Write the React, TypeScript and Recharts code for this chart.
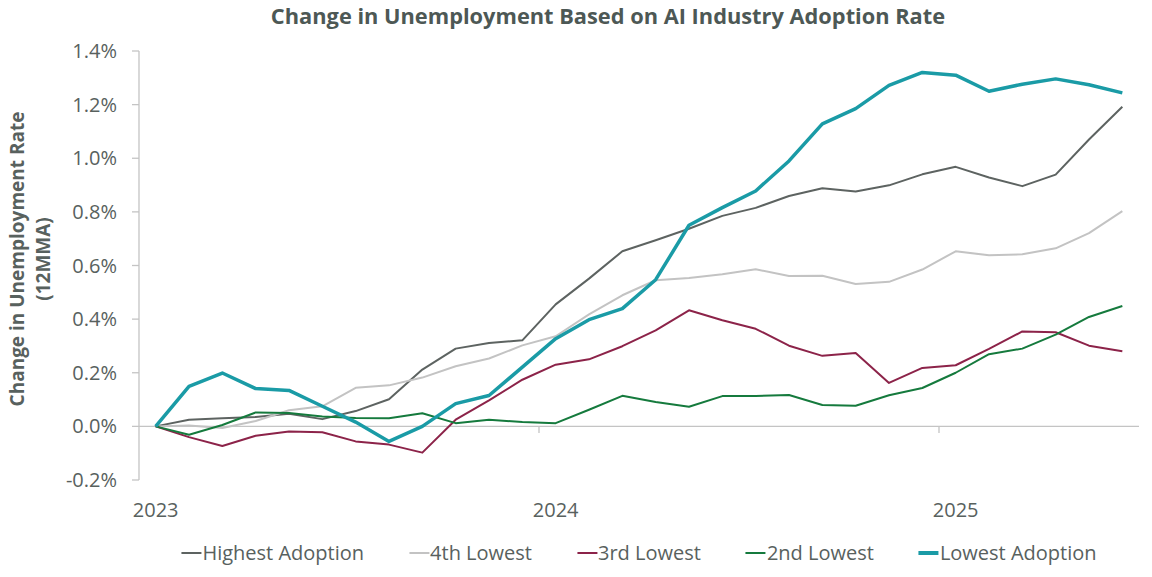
import { LineChart, Line, XAxis, YAxis, ReferenceLine } from 'recharts';

const FONT = '"Open Sans", "Noto Sans", sans-serif';
const TEXT = '#58615e';
const AXIS = '#c4c4c4';

// monthly, Jan 2023 - Jun 2025
const MONTHS = [
    '2023-01', '2023-02', '2023-03', '2023-04', '2023-05', '2023-06',
    '2023-07', '2023-08', '2023-09', '2023-10', '2023-11', '2023-12',
    '2024-01', '2024-02', '2024-03', '2024-04', '2024-05', '2024-06',
    '2024-07', '2024-08', '2024-09', '2024-10', '2024-11', '2024-12',
    '2025-01', '2025-02', '2025-03', '2025-04', '2025-05', '2025-06',
];

const YEAR_TICKS = ['2023-01', '2024-01', '2025-01'];
const Y_TICKS = [-0.2, 0, 0.2, 0.4, 0.6, 0.8, 1.0, 1.2, 1.4];

// change in unemployment rate, percentage points
const HIGHEST = [0, 0.025, 0.03, 0.035, 0.047, 0.027, 0.057, 0.101, 0.212, 0.29, 0.311, 0.321, 0.455, 0.551, 0.653, 0.694, 0.737, 0.785, 0.815, 0.859, 0.888, 0.876, 0.899, 0.94, 0.968, 0.928, 0.896, 0.939, 1.07, 1.192];
const FOURTH = [0, 0.003, -0.006, 0.02, 0.06, 0.075, 0.144, 0.153, 0.182, 0.224, 0.253, 0.302, 0.336, 0.418, 0.489, 0.545, 0.553, 0.567, 0.586, 0.561, 0.562, 0.531, 0.539, 0.585, 0.653, 0.638, 0.642, 0.664, 0.721, 0.803];
const THIRD = [0, -0.04, -0.073, -0.035, -0.019, -0.022, -0.056, -0.068, -0.098, 0.025, 0.097, 0.174, 0.23, 0.25, 0.299, 0.358, 0.433, 0.396, 0.364, 0.301, 0.263, 0.274, 0.162, 0.218, 0.228, 0.289, 0.354, 0.351, 0.301, 0.28];
const SECOND = [0, -0.031, 0.005, 0.052, 0.05, 0.037, 0.031, 0.03, 0.049, 0.012, 0.025, 0.016, 0.012, 0.062, 0.114, 0.091, 0.073, 0.113, 0.113, 0.117, 0.08, 0.077, 0.116, 0.143, 0.2, 0.269, 0.29, 0.342, 0.408, 0.449];
const LOWEST = [0, 0.149, 0.199, 0.141, 0.134, 0.075, 0.016, -0.056, 0, 0.085, 0.115, 0.221, 0.327, 0.398, 0.439, 0.547, 0.75, 0.816, 0.878, 0.99, 1.128, 1.185, 1.272, 1.32, 1.31, 1.25, 1.276, 1.296, 1.274, 1.244];

const SERIES = [
    { key: 'highest', name: 'Highest Adoption', values: HIGHEST, color: '#5d6361', width: 2 },
    { key: 'fourth', name: '4th Lowest', values: FOURTH, color: '#c3c3c3', width: 2 },
    { key: 'third', name: '3rd Lowest', values: THIRD, color: '#8c2349', width: 2 },
    { key: 'second', name: '2nd Lowest', values: SECOND, color: '#157a3d', width: 2 },
    { key: 'lowest', name: 'Lowest Adoption', values: LOWEST, color: '#1a9ba6', width: 3.5 },
];

// each month sits in the middle of its slot (Excel "between tick marks")
const data = MONTHS.map((month, i) => {
    const row: Record<string, string | number> = { month, pos: i + 0.5 };
    SERIES.forEach(s => { row[s.key] = s.values[i]; });
    return row;
});

const YEAR_POS = YEAR_TICKS.map(t => MONTHS.indexOf(t) + 0.5);
// tick marks sit on the boundary before each new year
const YEAR_BOUNDS = YEAR_TICKS.slice(1).map(t => MONTHS.indexOf(t));

function YLabel() {
    return (
        <text transform="rotate(-90 0 0)" fontFamily={FONT} fontWeight={700} fontSize={19} fill={TEXT} textAnchor="middle">
            <tspan x={-259} y={24}>Change in Unemployment Rate</tspan>
            <tspan x={-259} y={50}>(12MMA)</tspan>
        </text>
    );
}

export default function App() {
    return (
        <div style={{ position: 'relative', width: 1152, height: 577, fontFamily: FONT }}>
            <style>{'body{margin:0}'}</style>
            <div style={{
                position: 'absolute', left: 608, top: 2.5, transform: 'translateX(-50%)',
                whiteSpace: 'nowrap', fontSize: 21.8, lineHeight: '26px', fontWeight: 700, color: '#4d5855',
            }}>
                Change in Unemployment Based on AI Industry Adoption Rate
            </div>

            <LineChart width={1152} height={577} data={data} margin={{ top: 51, right: 13, bottom: 57, left: 0 }}>
                <XAxis
                    dataKey="pos"
                    type="number"
                    domain={[0, MONTHS.length]}
                    allowDataOverflow
                    ticks={YEAR_POS}
                    interval={0}
                    tickFormatter={(v: number) => MONTHS[Math.floor(v)].slice(0, 4)}
                    axisLine={false}
                    tickLine={false}
                    tickSize={0}
                    tickMargin={23}
                    height={40}
                    tick={{ fill: TEXT, fontSize: 20, fontFamily: FONT }}
                />
                <YAxis
                    width={139}
                    domain={[-0.2, 1.4]}
                    ticks={Y_TICKS}
                    interval={0}
                    tickFormatter={(v: number) => `${v.toFixed(1)}%`}
                    axisLine={{ stroke: AXIS, strokeWidth: 1.3 }}
                    tickLine={{ stroke: AXIS, strokeWidth: 1.3 }}
                    tickSize={7}
                    tickMargin={15}
                    tick={{ fill: TEXT, fontSize: 20, fontFamily: FONT }}
                    label={<YLabel />}
                />
                <ReferenceLine y={0} stroke={AXIS} strokeWidth={1.3} />
                {YEAR_BOUNDS.map(b => (
                    <ReferenceLine
                        key={b}
                        segment={[{ x: b, y: 0 }, { x: b, y: -0.025 }]}
                        stroke={AXIS}
                        strokeWidth={1.3}
                    />
                ))}
                {SERIES.map(s => (
                    <Line
                        key={s.key}
                        dataKey={s.key}
                        name={s.name}
                        type="linear"
                        stroke={s.color}
                        strokeWidth={s.width}
                        dot={false}
                        activeDot={false}
                        strokeLinejoin="round"
                        isAnimationActive={false}
                    />
                ))}
            </LineChart>

            <div style={{
                position: 'absolute', left: 639, top: 538, transform: 'translateX(-50%)',
                display: 'flex', gap: 45, whiteSpace: 'nowrap', fontSize: 20, lineHeight: '30px', color: TEXT,
            }}>
                {SERIES.map(s => (
                    <div key={s.key} style={{ display: 'flex', alignItems: 'center' }}>
                        <span style={{ display: 'inline-block', width: 20, height: s.width, background: s.color, marginRight: 1 }} />
                        {s.name}
                    </div>
                ))}
            </div>
        </div>
    );
}
